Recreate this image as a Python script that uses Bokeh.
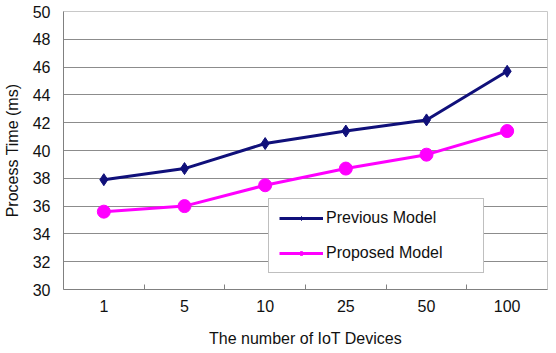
from bokeh.plotting import figure
from bokeh.models import Range1d, FixedTicker, Legend, LegendItem, ColumnDataSource
from bokeh.embed import file_html
from bokeh.resources import INLINE

categories = ["1", "5", "10", "25", "50", "100"]
previous_model = [37.9, 38.7, 40.5, 41.4, 42.2, 45.7]
proposed_model = [35.6, 36.0, 37.5, 38.7, 39.7, 41.4]
y_ticks = [30, 32, 34, 36, 38, 40, 42, 44, 46, 48, 50]

FONT = "Liberation Sans"
xpos = [i + 0.5 for i in range(len(categories))]
src = ColumnDataSource(dict(x=xpos, prev=previous_model, prop=proposed_model))

p = figure(width=556, height=353, output_backend="svg", toolbar_location=None,
           x_range=Range1d(0, len(categories)), y_range=Range1d(30, 50),
           min_border_left=63, min_border_right=9, min_border_top=11, min_border_bottom=64)
p.background_fill_color = "white"
p.border_fill_color = "white"
p.outline_line_color = "#c8c8c8"
p.outline_line_width = 1

p.xgrid.visible = False
p.ygrid.ticker = FixedTicker(ticks=y_ticks)
p.ygrid.grid_line_color = "#8c8c8c"
p.ygrid.grid_line_width = 1

p.xaxis.ticker = FixedTicker(ticks=xpos, minor_ticks=[float(i) for i in range(1, len(categories))])
p.xaxis.major_label_overrides = {x: c for x, c in zip(xpos, categories)}
p.xaxis.major_tick_in = 0
p.xaxis.major_tick_out = 0
p.xaxis.minor_tick_in = 5
p.xaxis.minor_tick_out = 0
p.xaxis.minor_tick_line_color = "#808080"
p.xaxis.axis_line_color = "#808080"
p.xaxis.major_label_standoff = 10
p.xaxis.axis_label = "The number of IoT Devices"
p.xaxis.axis_label_standoff = 15

p.yaxis.ticker = FixedTicker(ticks=y_ticks)
p.yaxis.major_tick_in = 0
p.yaxis.major_tick_out = 0
p.yaxis.minor_tick_line_color = None
p.yaxis.axis_line_color = "#808080"
p.yaxis.major_label_standoff = 13
p.yaxis.axis_label = "Process Time (ms)"
p.yaxis.axis_label_standoff = 9

for ax in (p.xaxis, p.yaxis):
    ax.major_label_text_font = FONT
    ax.major_label_text_font_size = "16px"
    ax.major_label_text_color = "#111111"
    ax.axis_label_text_font = FONT
    ax.axis_label_text_font_size = "16px"
    ax.axis_label_text_font_style = "normal"
    ax.axis_label_text_color = "#111111"

navy = "#10107a"
mag = "#ff00ff"
l1 = p.line("x", "prev", source=src, line_color=navy, line_width=3)
m1 = p.scatter("x", "prev", source=src, marker="diamond", size=12, fill_color=navy, line_color=navy)
l2 = p.line("x", "prop", source=src, line_color=mag, line_width=3)
m2 = p.scatter("x", "prop", source=src, marker="circle", size=13, fill_color=mag, line_color=mag)

legend = Legend(items=[LegendItem(label="Previous Model", renderers=[l1, m1]),
                       LegendItem(label="Proposed Model", renderers=[l2, m2])],
                location=(205, 16), orientation="vertical")
legend.padding = 10
legend.spacing = 17
legend.margin = 0
legend.glyph_width = 44
legend.glyph_height = 10
legend.label_height = 10
legend.label_standoff = 3
legend.label_width = 147
legend.label_text_font = FONT
legend.label_text_font_size = "16px"
legend.label_text_color = "#111111"
legend.border_line_color = "#808080"
legend.border_line_width = 1
legend.background_fill_color = "white"
legend.background_fill_alpha = 1.0
p.add_layout(legend, "center")

open("out.html", "w").write(file_html(p, INLINE))
